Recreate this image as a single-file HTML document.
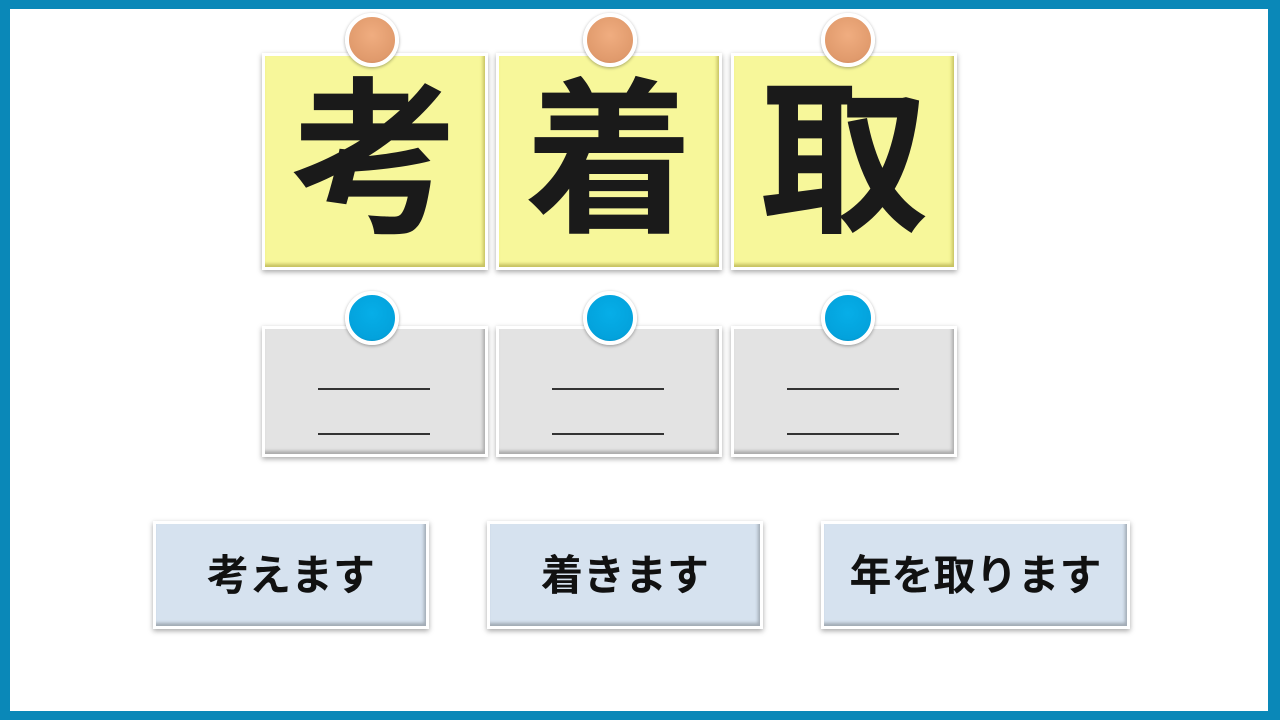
<!DOCTYPE html>
<html><head><meta charset="utf-8"><style>
*{margin:0;padding:0;box-sizing:border-box}
body{width:1280px;height:720px;background:#0a88b8;position:relative;overflow:hidden;font-family:"Liberation Sans","Noto Sans CJK JP",sans-serif}
.in{position:absolute;left:10px;top:9px;width:1258px;height:702px;background:#fff}
.card{position:absolute;border:3px solid #fff;box-shadow:0 2px 5px rgba(0,0,0,.35)}
.y{background:#f7f79a;top:53px;width:226px;height:217px;font-size:168px;line-height:211px;text-align:center;color:#1a1a1a;font-weight:bold;box-shadow:0 2px 5px rgba(0,0,0,.35),inset -2px -3px 3px rgba(150,140,40,.5)}
.g{background:#e3e3e3;top:326px;width:226px;height:131px;box-shadow:0 2px 5px rgba(0,0,0,.35),inset -2px -3px 3px rgba(0,0,0,.25)}
.g i{position:absolute;left:53px;width:112px;height:2px;background:#333}
.b{background:#d6e2ef;top:521px;height:108px;font-size:42px;line-height:104px;text-align:center;color:#111;font-weight:bold;box-shadow:0 2px 5px rgba(0,0,0,.35),inset -2px -3px 3px rgba(0,0,0,.25)}
.pin{position:absolute;width:54px;height:54px;border-radius:50%;border:4px solid #fff;box-shadow:0 1px 3px rgba(0,0,0,.35)}
.o{background:radial-gradient(circle at 50% 40%,#f0ad80,#e09a6c 70%,#b87048);top:13px}
.bl{background:radial-gradient(circle at 50% 40%,#06aee8,#03a2dc 70%,#0378a8);top:291px}
</style></head><body>
<div class="in"></div>
<div class="card y" style="left:262px">考</div>
<div class="card y" style="left:496px">着</div>
<div class="card y" style="left:731px">取</div>
<div class="pin o" style="left:345px"></div>
<div class="pin o" style="left:583px"></div>
<div class="pin o" style="left:821px"></div>
<div class="card g" style="left:262px"><i style="top:59px"></i><i style="top:104px"></i></div>
<div class="card g" style="left:496px"><i style="top:59px"></i><i style="top:104px"></i></div>
<div class="card g" style="left:731px"><i style="top:59px"></i><i style="top:104px"></i></div>
<div class="pin bl" style="left:345px"></div>
<div class="pin bl" style="left:583px"></div>
<div class="pin bl" style="left:821px"></div>
<div class="card b" style="left:153px;width:276px">考えます</div>
<div class="card b" style="left:487px;width:276px">着きます</div>
<div class="card b" style="left:821px;width:309px">年を取ります</div>
</body></html>
